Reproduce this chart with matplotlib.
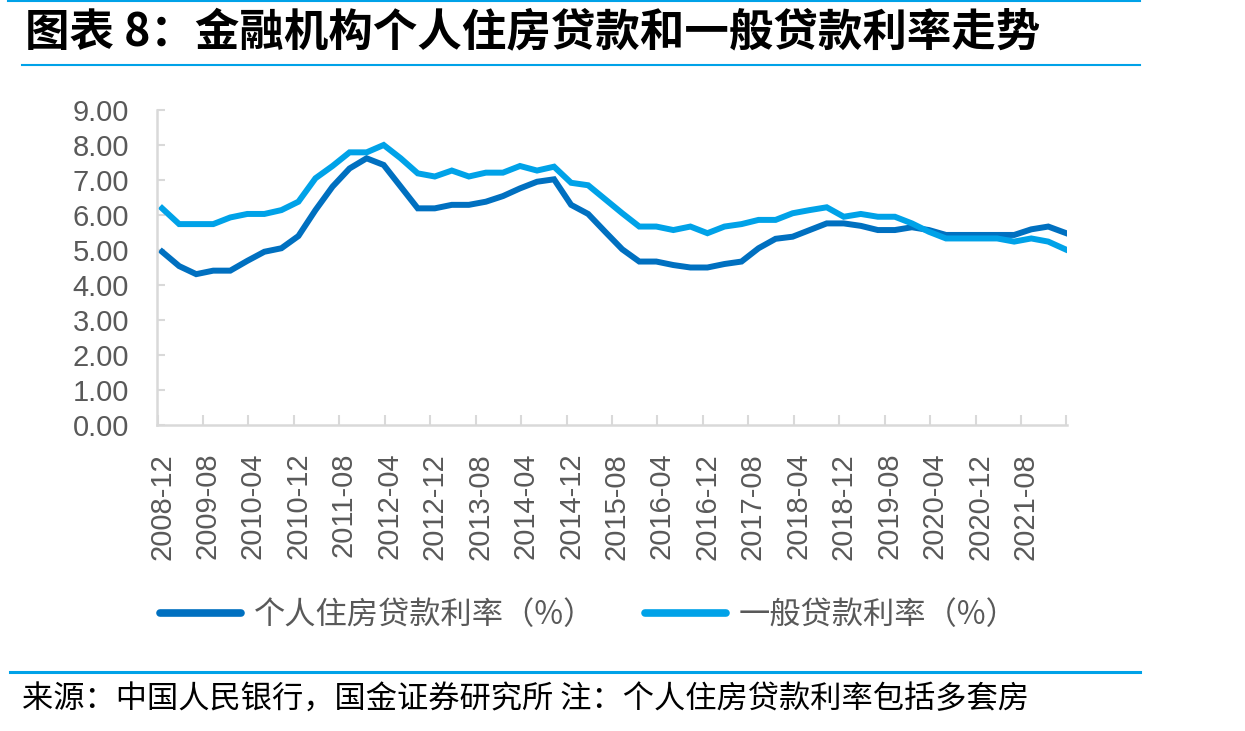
import matplotlib
matplotlib.use('Agg')
import matplotlib.pyplot as plt
from matplotlib.lines import Line2D
import numpy as np

plt.rcParams['font.family'] = ['Liberation Sans', 'Noto Sans CJK SC', 'DejaVu Sans']

# 季度数据 2008-12 ~ 2022-03
quarters = ['%d-%02d' % (2008 + (11 + 3 * k) // 12, (11 + 3 * k) % 12 + 1) for k in range(54)]
housing_rate = [4.95, 4.54, 4.31, 4.41, 4.41, 4.69, 4.95, 5.05, 5.40, 6.14, 6.81, 7.33, 7.62, 7.43,
                6.81, 6.19, 6.19, 6.29, 6.29, 6.38, 6.54, 6.76, 6.95, 7.02, 6.29, 6.03, 5.52, 5.02,
                4.67, 4.67, 4.57, 4.50, 4.50, 4.60, 4.67, 5.05, 5.32, 5.38, 5.57, 5.76, 5.76, 5.69,
                5.57, 5.57, 5.65, 5.57, 5.43, 5.43, 5.43, 5.43, 5.43, 5.59, 5.67, 5.49]
general_rate = [6.19, 5.74, 5.74, 5.74, 5.93, 6.03, 6.03, 6.14, 6.38, 7.05, 7.40, 7.79, 7.79, 8.00,
                7.62, 7.19, 7.10, 7.27, 7.10, 7.21, 7.21, 7.40, 7.27, 7.38, 6.92, 6.85, 6.45, 6.05,
                5.67, 5.67, 5.57, 5.67, 5.48, 5.67, 5.74, 5.86, 5.86, 6.05, 6.14, 6.22, 5.95, 6.03,
                5.95, 5.95, 5.76, 5.52, 5.33, 5.33, 5.33, 5.33, 5.24, 5.33, 5.24, 5.02]
tick_labels = ['2008-12', '2009-08', '2010-04', '2010-12', '2011-08', '2012-04', '2012-12',
               '2013-08', '2014-04', '2014-12', '2015-08', '2016-04', '2016-12', '2017-08',
               '2018-04', '2018-12', '2019-08', '2020-04', '2020-12', '2021-08']

def month_index(s):
    y, m = s.split('-')
    return (int(y) - 2008) * 12 + int(m) - 12

x = [month_index(q) for q in quarters]
label_pos = [month_index(t) for t in tick_labels]

DARK = '#0070c0'
LIGHT = '#00a2e8'
GRAY_TXT = '#595959'
CJK = ['Noto Sans CJK SC', 'DejaVu Sans']

fig = plt.figure(figsize=(12.45, 7.31), dpi=100)
ax = fig.add_axes([157 / 1245, 1 - 425 / 731, (1067 - 157) / 1245, (425 - 110) / 731])

ax.plot(x, housing_rate, color=DARK, lw=4.3, solid_joinstyle='miter', label='个人住房贷款利率（%）')
ax.plot(x, general_rate, color=LIGHT, lw=4.3, solid_joinstyle='miter', label='一般贷款利率（%）')

ax.set_ylim(0, 9)
ax.set_xlim(-0.9, 159.3)
ax.set_yticks(np.arange(0, 10, 1))
ax.set_yticklabels(['%.2f' % v for v in np.arange(0, 10, 1)], fontsize=21, color=GRAY_TXT)
ax.tick_params(axis='y', direction='in', length=6, width=1.5, color='#d9d9d9', pad=20)

ax.set_xticks(label_pos)
ax.set_xticklabels(tick_labels, rotation=90, fontsize=21, color=GRAY_TXT)
ax.tick_params(axis='x', length=0, pad=20)
ax.set_xticks([8 * j - 0.8 for j in range(21)], minor=True)
ax.tick_params(axis='x', which='minor', direction='in', length=7, width=1.5, color='#d9d9d9')

for s in ['top', 'right']:
    ax.spines[s].set_visible(False)
for s in ['left', 'bottom']:
    ax.spines[s].set_color('#d9d9d9')
    ax.spines[s].set_linewidth(1.8)

handles = [Line2D([], [], color=DARK, lw=5.5, solid_capstyle='round'),
           Line2D([], [], color=LIGHT, lw=5.5, solid_capstyle='round')]
fig.legend(handles, ['个人住房贷款利率（%）', '一般贷款利率（%）'], loc='center',
           bbox_to_anchor=(0.473, 1 - 615 / 731), ncol=2, frameon=False,
           prop={'family': CJK, 'size': 22.5}, labelcolor=GRAY_TXT,
           handlelength=2.6, handletextpad=0.4, columnspacing=1.6)

# 标题与装饰线
fig.text(25 / 1245, 1 - 32 / 731, '图表 8：金融机构个人住房贷款和一般贷款利率走势', family=CJK,
         fontsize=32, fontweight='bold', style='italic', va='center', ha='left', color='black')
fig.add_artist(Line2D([8 / 1245, 1140 / 1245], [1 - 1 / 731] * 2, color=LIGHT, lw=1.5))
fig.add_artist(Line2D([22 / 1245, 1140 / 1245], [1 - 65 / 731] * 2, color=LIGHT, lw=1.5))
fig.add_artist(Line2D([10 / 1245, 1140 / 1245], [1 - 672 / 731] * 2, color=LIGHT, lw=2.2))
fig.text(22 / 1245, 1 - 700 / 731, '来源：中国人民银行，国金证券研究所 注：个人住房贷款利率包括多套房',
         family=CJK, fontsize=22.5, va='center', ha='left', color='black')

fig.savefig('out.png', dpi=100)
